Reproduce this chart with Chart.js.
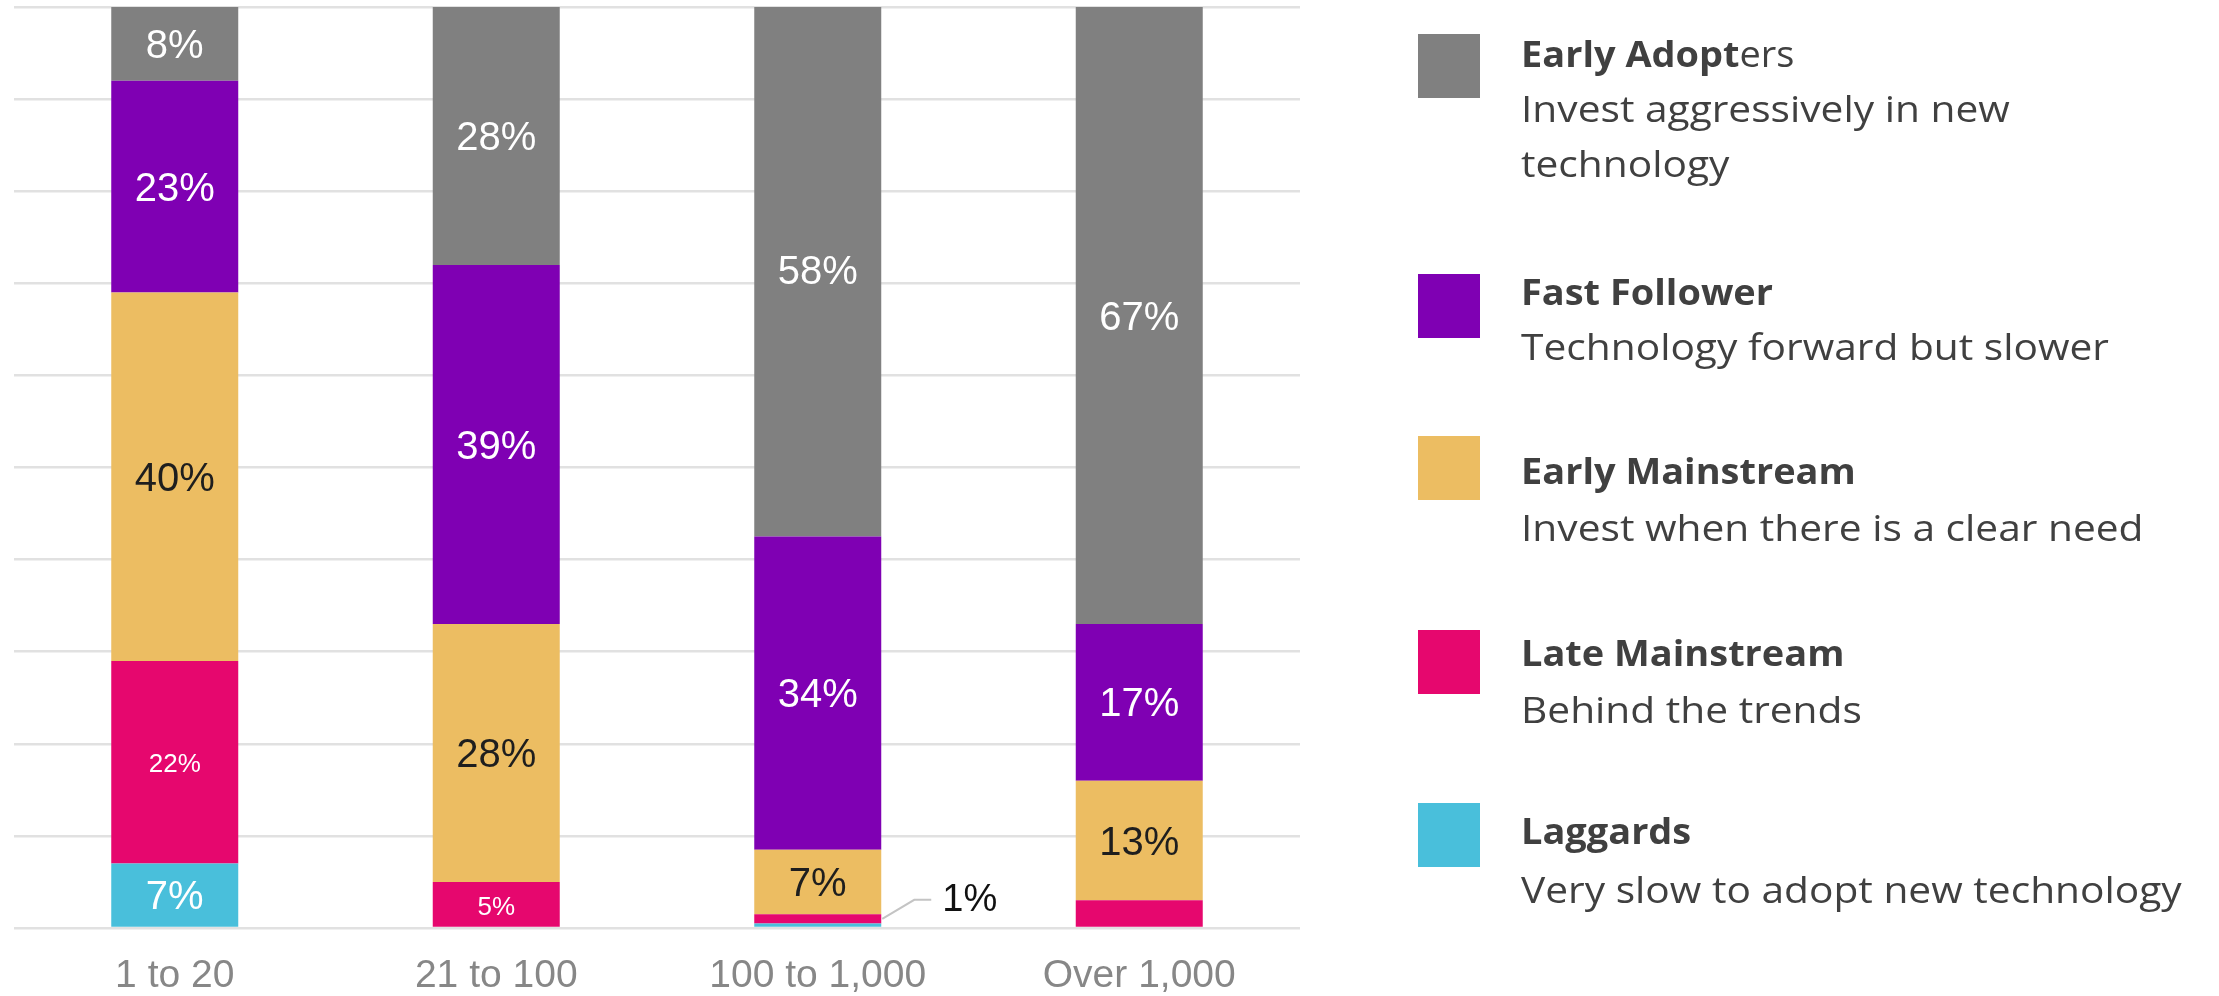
<!DOCTYPE html>
<html>
<head>
<meta charset="utf-8">
<title>Technology adoption by company size</title>
<script src="https://cdn.jsdelivr.net/npm/chart.js@4/dist/chart.umd.min.js"></script>
<style>
  html, body { margin: 0; padding: 0; background: #ffffff; }
  #chart { display: block; }
</style>
</head>
<body>
<canvas id="chart" width="2219" height="996"></canvas>
<script>
// Company size bands (x axis)
const categories = ['1 to 20', '21 to 100', '100 to 1,000', 'Over 1,000'];

// Adoption segments, in legend order (top of the stack first)
const seriesNames = ['Early Adopters', 'Fast Follower', 'Early Mainstream', 'Late Mainstream', 'Laggards'];
const seriesNotes = [
  ['Invest aggressively in new', 'technology'],
  ['Technology forward but slower'],
  ['Invest when there is a clear need'],
  ['Behind the trends'],
  ['Very slow to adopt new technology']
];

// Share of respondents (%) per size band
const earlyAdopters   = [8, 28, 58, 67];
const fastFollower    = [23, 39, 34, 17];
const earlyMainstream = [40, 28, 7, 13];
const lateMainstream  = [22, 5, 1, 3];
const laggards        = [7, 0, 0.5, 0];

const seriesValues = [earlyAdopters, fastFollower, earlyMainstream, lateMainstream, laggards];
const seriesColors = ['#808080', '#7f00b3', '#ecbd62', '#e6076e', '#49bfdb'];
const labelColors  = ['#ffffff', '#ffffff', '#1e1e1e', '#ffffff', '#ffffff'];
const labelSizes   = [40, 40, 40, 26, 40];
// Number of leading characters of each legend name set in bold
const boldChars    = [11, 13, 16, 15, 8];

// Slice whose value sits beside its bar on a leader line
const callout = { series: 3, category: 2 };
const insideMin = 4;

// Stack from the bottom: Laggards first, Early Adopters last
const stackOrder = [4, 3, 2, 1, 0];

const datasets = stackOrder.map(i => ({
  label: seriesNames[i],
  data: seriesValues[i],
  backgroundColor: seriesColors[i],
  borderWidth: 0,
  stack: 'share',
  clip: 0,
  seriesIndex: i
}));

const LABEL_FONT = '"Liberation Sans", Arial, sans-serif';
const LEGEND_FONT = '"Open Sans", "Noto Sans", sans-serif';

// Percent labels centred in each slice, plus the one leader-line callout
const valueLabels = {
  id: 'valueLabels',
  afterDatasetsDraw(chart) {
    const ctx = chart.ctx;
    ctx.save();
    chart.data.datasets.forEach((ds, di) => {
      const meta = chart.getDatasetMeta(di);
      const s = ds.seriesIndex;
      meta.data.forEach((bar, ci) => {
        const v = ds.data[ci];
        const p = bar.getProps(['x', 'y', 'base', 'width'], true);
        const cy = (p.y + p.base) / 2;
        const text = v + '%';
        if (s === callout.series && ci === callout.category) {
          const x0 = p.x + p.width / 2;
          const ly = cy - 19;
          ctx.strokeStyle = '#c4c4c4';
          ctx.lineWidth = 2;
          ctx.beginPath();
          ctx.moveTo(x0 + 1, cy);
          ctx.lineTo(x0 + 33, ly);
          ctx.lineTo(x0 + 50, ly);
          ctx.stroke();
          ctx.fillStyle = '#111111';
          ctx.font = '38px ' + LABEL_FONT;
          ctx.textAlign = 'left';
          ctx.textBaseline = 'middle';
          ctx.fillText(text, x0 + 61, ly + 1);
        } else if (v >= insideMin) {
          ctx.fillStyle = labelColors[s];
          ctx.font = labelSizes[s] + 'px ' + LABEL_FONT;
          ctx.textAlign = 'center';
          ctx.textBaseline = 'middle';
          ctx.fillText(text, p.x, cy + 3);
        }
      });
    });
    ctx.restore();
  }
};

// Side legend: swatch, bold name, and a one- or two-line description
const legendLayout = {
  swatchX: 1418, swatchW: 62, swatchH: 64, textX: 1521,
  swatchTops: [34, 274, 436, 630, 803],
  titleBaselines: [67, 305, 484, 666, 844],
  noteBaselines: [[122, 177], [360], [541], [723], [903]],
  titleWidth: 252,   // width of "Fast Follower"
  noteWidth: 588     // width of "Technology forward but slower"
};

const sideLegend = {
  id: 'sideLegend',
  afterDraw(chart) {
    const ctx = chart.ctx;
    const L = legendLayout;
    const boldFont = '700 36px ' + LEGEND_FONT;
    const regFont = '400 36px ' + LEGEND_FONT;
    ctx.save();
    ctx.font = boldFont;
    const titleStretch = L.titleWidth / ctx.measureText(seriesNames[1]).width;
    ctx.font = regFont;
    const noteStretch = L.noteWidth / ctx.measureText(seriesNotes[1][0]).width;
    ctx.textAlign = 'left';
    ctx.textBaseline = 'alphabetic';

    const drawRun = (text, x, y, font, k) => {
      ctx.save();
      ctx.font = font;
      ctx.translate(x, y);
      ctx.scale(k, 1);
      ctx.fillText(text, 0, 0);
      const w = ctx.measureText(text).width * k;
      ctx.restore();
      return w;
    };

    seriesNames.forEach((name, i) => {
      ctx.fillStyle = seriesColors[i];
      ctx.fillRect(L.swatchX, L.swatchTops[i], L.swatchW, L.swatchH);
      ctx.fillStyle = '#404040';
      const boldPart = name.slice(0, boldChars[i]);
      const rest = name.slice(boldChars[i]);
      const w = drawRun(boldPart, L.textX, L.titleBaselines[i], boldFont, titleStretch);
      if (rest) drawRun(rest, L.textX + w, L.titleBaselines[i], regFont, titleStretch);
      seriesNotes[i].forEach((line, j) => {
        drawRun(line, L.textX, L.noteBaselines[i][j], regFont, noteStretch);
      });
    });
    ctx.restore();
  }
};

new Chart(document.getElementById('chart'), {
  type: 'bar',
  data: { labels: categories, datasets },
  options: {
    responsive: false,
    animation: false,
    devicePixelRatio: 1,
    layout: { padding: { left: 14, right: 919, top: 7, bottom: 0 } },
    plugins: { legend: { display: false }, tooltip: { enabled: false } },
    datasets: { bar: { categoryPercentage: 1, barPercentage: 0.395 } },
    scales: {
      x: {
        stacked: true,
        grid: { display: false, drawTicks: false },
        border: { display: false },
        ticks: {
          font: { family: LABEL_FONT, size: 39 },
          color: '#878787',
          padding: 25,
          maxRotation: 0
        },
        afterFit(scale) { scale.height = 68; }
      },
      y: {
        stacked: true,
        min: 0,
        max: 100,
        ticks: { display: false, stepSize: 10 },
        grid: { color: '#e1e1e1', lineWidth: 2.5, drawTicks: false },
        border: { display: false },
        afterFit(scale) { scale.width = 0; }
      }
    }
  },
  plugins: [valueLabels, sideLegend]
});
</script>
</body>
</html>
